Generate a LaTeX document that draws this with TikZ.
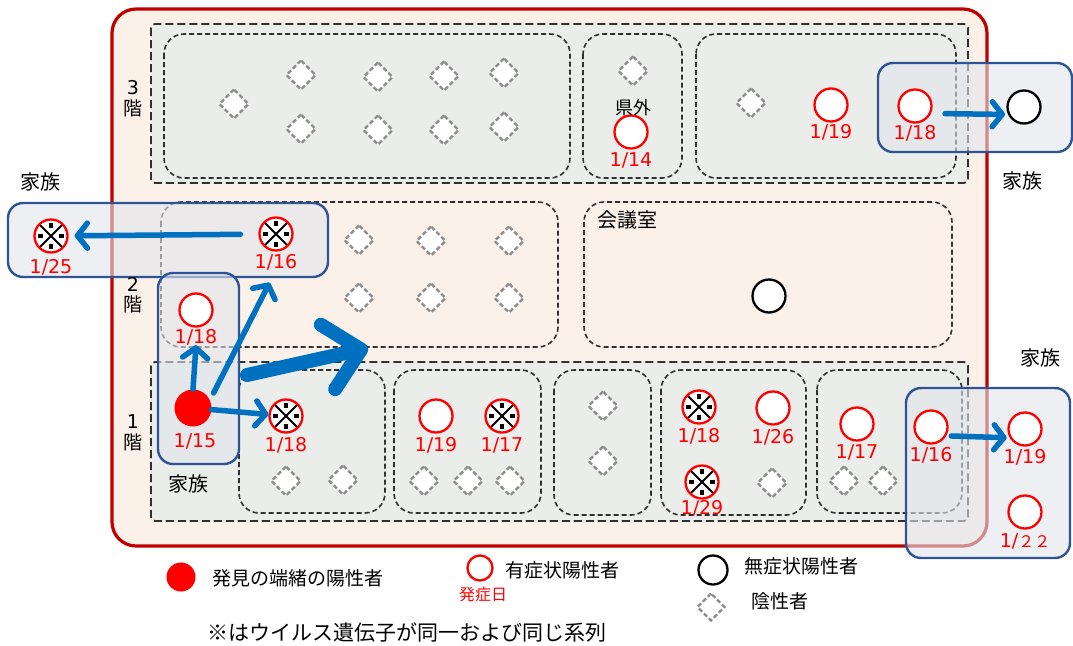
\documentclass[tikz,border=0pt]{standalone}
\usepackage{fontspec}
\setmainfont{DejaVu Sans}
\newfontfamily\jpfont{Noto Sans CJK JP}
\newfontfamily\numfont{DejaVu Sans}
\usepackage{tikz}
\usetikzlibrary{arrows.meta}
\definecolor{wallred}{HTML}{C00000}
\definecolor{cream}{HTML}{FCF1E9}
\definecolor{bandgrey}{HTML}{EBEDEA}
\definecolor{dashgrey}{HTML}{303030}
\definecolor{diagrey}{HTML}{8C8C8C}
\definecolor{famblue}{HTML}{2F5496}
\definecolor{famfill}{HTML}{E1E5EA}
\definecolor{arrowblue}{HTML}{0070C0}
\newcommand{\fwtt}{{\jpfont\fontsize{16}{16}\selectfont ２２}}

\begin{document}
\begin{tikzpicture}[
          x = 1pt, y = -1pt, inner sep = 0
        ]
          \tikzstyle {building} = [draw = wallred, line width = 3.2pt, fill = cream, rounded corners = 24pt]
          \tikzstyle {floorband} = [draw = dashgrey, fill = bandgrey, line width = 1.8pt, dash pattern = on 8pt off 4pt, rounded corners = 4pt]
          \tikzstyle {room} = [draw = dashgrey, line width = 1.6pt, dash pattern = on 5pt off 3pt, rounded corners = 20pt]
          \tikzstyle {family} = [draw = famblue, line width = 2.4pt, fill = famfill, fill opacity = 0.6, rounded corners = 15pt]
          \tikzstyle {sympos} = [draw = red, shape = circle, fill = white, line width = 2.3pt, minimum size = 33pt]
          \tikzstyle {asympos} = [draw = black, shape = circle, fill = white, line width = 2.3pt, minimum size = 33pt]
          \tikzstyle {firstcase} = [fill = red, shape = circle, minimum size = 37pt]
          \tikzstyle {samestrain} = [sympos, path picture = {
              \draw [black, line width = 1.8pt]
                (path picture bounding box.north west) -- (path picture bounding box.south east)
                (path picture bounding box.north east) -- (path picture bounding box.south west);
              \foreach \a in {0, 90, 180, 270}
                { \fill [black] (path picture bounding box.center) ++(\a:10.5pt) +(-2.2pt,-2.2pt) rectangle +(2.2pt,2.2pt); } ;
            }]
          \tikzstyle {negative} = [draw = diagrey, shape = rectangle, fill = white, line width = 2.3pt, dash pattern = on 4.5pt off 2.5pt, minimum size = 20.5pt, rotate = 45]
          \tikzstyle {date} = [text = red, font = \numfont\fontsize{19}{19}\selectfont]
          \tikzstyle {jtext} = [font = \jpfont\fontsize{20}{20}\selectfont]
          \tikzstyle {floorlabel} = [font = \jpfont\fontsize{19}{19}\selectfont]
          \tikzstyle {legendtext} = [anchor = west, font = \jpfont\fontsize{19}{19}\selectfont]
          \tikzstyle {spread} = [draw = arrowblue, line width = 5.5pt, line cap = round, -{Straight Barb[length = 10pt, width = 25pt, round]}]
          \tikzstyle {bigspread} = [draw = arrowblue, line width = 14pt, line cap = round, -{Straight Barb[length = 34pt, width = 66pt, round]}]
          \useasboundingbox (0,0) rectangle (1073,645);
          % building, floors and rooms
          \draw [building] (112,9) rectangle (987,546);
          \foreach \t/\b in {24/183, 362/521}
            { \draw [floorband] (151,\t) rectangle (968,\b) ; } ;
          \foreach \l/\t/\r/\b in {164/34/570/178, 583/34/682/178, 696/34/956/178,
                                   161/202/558/347, 584/202/952/347,
                                   239/370/385/513, 394/370/541/513, 554/370/651/515,
                                   661/370/806/515, 817/370/962/513}
            { \draw [room] (\l,\t) rectangle (\r,\b) ; } ;
          % family groups
          \foreach \l/\t/\r/\b in {8/203/328/277, 158/273/239/464, 878/63/1072/152, 906/388/1070/558}
            { \draw [family] (\l,\t) rectangle (\r,\b) ; } ;
          % place nodes
          \foreach \x/\y [count = \i] in {234/104, 301/75, 378/77, 444/76, 504/73, 301/129, 378/130, 444/130, 504/127,
                                         633/71, 751/103,
                                         359/240, 431/241, 509/241, 359/298, 431/298, 509/298,
                                         286/481, 343/480, 424/481, 468/481, 510/481,
                                         603/406, 603/461, 772/483, 844/481, 883/481}
            { \path node (neg\i) [negative] at (\x,\y) {} ; } ;
          \foreach \n/\x/\y/\ly/\d in {s114/631/132/160/14, s119a/831/105/132/19, s118a/915/106/133/18,
                                       s118b/196/310/337/18, s119b/436/416/445/19, s126/773/408/437/26,
                                       s117/857/424/452/17, s116/931/427/455/16, s119c/1025/429/457/19,
                                       s122/1025/512/541/\fwtt}
            { \path node (\n) [sympos] at (\x,\y) {} ;
              \path node (d\n) [date] at (\x,\ly) {1/\d} ; } ;
          \foreach \n/\x/\y/\ly/\d in {x116/276/234/262/16, x125/51/236/267/25, x118/286/416/445/18,
                                       x117/502/416/445/17, x118b/699/407/436/18, x129/702/482/508/29}
            { \path node (\n) [samestrain] at (\x,\y) {} ;
              \path node (d\n) [date] at (\x,\ly) {1/\d} ; } ;
          \path node (first) [firstcase] at (193,408) {};
          \path node (dfirst) [date] at (195,441) {1/15};
          \path node (a1) [asympos] at (1024,107) {};
          \path node (a2) [asympos] at (769,296) {};
          % place texts
          \foreach \f/\y in {3/88, 2/284, 1/422}
            { \path node (fn\f) [floorlabel, font = \numfont\fontsize{19}{19}\selectfont] at (133,\y) {\f} ;
              \path node (fk\f) [floorlabel] at (133,\y+20) {階} ; } ;
          \path node (kengai) [jtext, font = \jpfont\fontsize{18}{18}\selectfont] at (633,108) {県外};
          \path node (kaigi) [jtext, anchor = west] at (597,220) {会議室};
          \path node (fam1) [jtext] at (40,182) {家族};
          \path node (fam2) [jtext] at (1022,181) {家族};
          \path node (fam3) [jtext] at (1040,358) {家族};
          \path node (fam4) [jtext] at (188,484) {家族};
          % place edges
          \draw [spread] (first.north) -- (ds118b.south);
          \draw [spread, shorten <= 8pt, shorten >= 14pt] (first.25) -- (dx116.south);
          \draw [spread] (first) -- (x118);
          \draw [spread, shorten <= 18pt, shorten >= 6pt] (x116) -- (x125);
          \draw [spread, shorten <= 14pt, shorten >= 3pt] (s118a.-25) -- (a1.-155);
          \draw [spread, shorten <= 5pt, shorten >= 3pt] (s116.-30) -- (s119c.-150);
          \coordinate (bigtail) at (247,375);
          \coordinate (bighead) at (368,348);
          \draw [bigspread] (bigtail) -- (bighead);
          % legend
          \path node (lfirst) [firstcase, minimum size = 29pt] at (181,577) {};
          \path node (lfirsttext) [legendtext] at (212,578) {発見の端緒の陽性者};
          \path node (lsym) [sympos, minimum size = 25pt] at (480,568) {};
          \path node (lsymtext) [legendtext] at (505,570) {有症状陽性者};
          \path node (lonset) [text = red, font = \jpfont\fontsize{16}{16}\selectfont] at (483,594) {発症日};
          \path node (lasym) [asympos, minimum size = 29pt] at (713,570) {};
          \path node (lasymtext) [legendtext] at (744,566) {無症状陽性者};
          \path node (lneg) [negative, minimum size = 19pt] at (711,607) {};
          \path node (lnegtext) [legendtext] at (751,601) {陰性者};
          \path node (note) [font = \jpfont\fontsize{21}{21}\selectfont] at (407,632) {※はウイルス遺伝子が同一および同じ系列};
        \end{tikzpicture}
\end{document}
